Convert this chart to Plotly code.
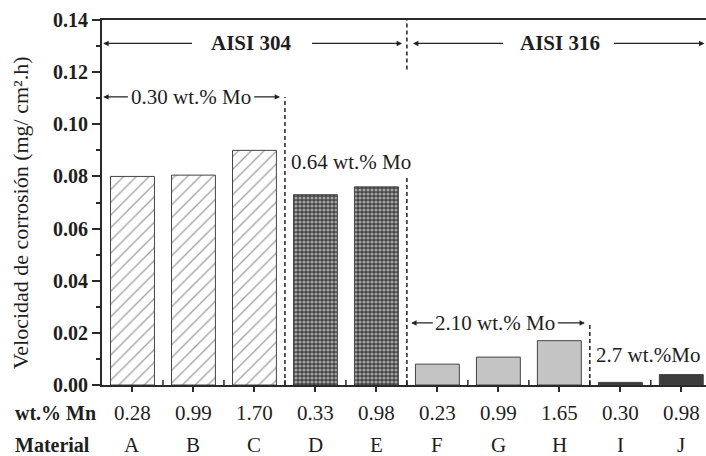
import plotly.graph_objects as go

materials = ["A", "B", "C", "D", "E", "F", "G", "H", "I", "J"]
mn_wt = ["0.28", "0.99", "1.70", "0.33", "0.98", "0.23", "0.99", "1.65", "0.30", "0.98"]
corrosion_rate = [0.080, 0.0805, 0.090, 0.073, 0.076, 0.008, 0.0107, 0.017, 0.001, 0.004]
bar_colors = ["white", "white", "white", "#444444", "#444444",
              "#c4c4c4", "#c4c4c4", "#c4c4c4", "#3c3c3c", "#3c3c3c"]
pattern_shapes = ["/", "/", "/", ".", ".", "", "", "", "", ""]
pattern_colors = ["#1a1a1a", "#1a1a1a", "#1a1a1a", "white", "white",
                  "#2a2a2a", "#2a2a2a", "#2a2a2a", "#2a2a2a", "#2a2a2a"]
y_ticks = [0.00, 0.02, 0.04, 0.06, 0.08, 0.10, 0.12, 0.14]

FONT = "Times New Roman, Liberation Serif, DejaVu Serif, serif"
AX = "#2a2a2a"
TXT = "#1e1e1e"
xpos = list(range(len(materials)))

fig = go.Figure()
fig.add_trace(go.Bar(
    x=xpos, y=corrosion_rate, width=0.72,
    marker=dict(
        color=bar_colors,
        line=dict(color="#444444", width=1),
        pattern=dict(shape=pattern_shapes, size=[9, 9, 9, 4, 4, 8, 8, 8, 8, 8],
                     solidity=[0.15, 0.15, 0.15, 0.5, 0.5, 0.2, 0.2, 0.2, 0.2, 0.2],
                     fgcolor=pattern_colors, fillmode="overlay"),
    ),
    hoverinfo="skip",
))

fig.update_layout(
    width=706, height=456,
    margin=dict(l=102, r=0, t=20, b=71),
    plot_bgcolor="white", paper_bgcolor="white",
    showlegend=False,
    font=dict(family=FONT, color=TXT, size=20),
)
fig.update_xaxes(
    range=[-0.5, 9.405], tickvals=xpos, ticktext=[""] * 10, tickson="boundaries",
    ticks="outside", ticklen=5, tickwidth=1.5, tickcolor=AX,
    showline=True, linecolor=AX, linewidth=1.8, mirror=True,
    showgrid=False, zeroline=False, showticklabels=False,
)
fig.update_yaxes(
    range=[0, 0.14], tickvals=y_ticks, ticktext=[f"<b>{v:.2f}</b>" for v in y_ticks],
    ticks="outside", ticklen=8, tickwidth=1.5, tickcolor=AX,
    minor=dict(dtick=0.01, ticks="outside", ticklen=4, tickwidth=1.5, tickcolor=AX, showgrid=False),
    showline=True, linecolor=AX, linewidth=1.8,
    showgrid=False, zeroline=False,
    tickfont=dict(family=FONT, size=20, color=TXT),
)

shapes = []
# inside halves of the crossing x ticks
for b in [i + 0.5 for i in range(9)]:
    shapes.append(dict(type="line", xref="x", yref="y", x0=b, x1=b, y0=0, y1=0.0019,
                       line=dict(color=AX, width=1.5)))
dash = dict(color="#222222", width=1.5, dash="4px,3px")
shapes += [
    dict(type="line", xref="x", yref="y", x0=2.5, x1=2.5, y0=0, y1=0.1105, line=dash),
    dict(type="line", xref="x", yref="y", x0=4.5, x1=4.5, y0=0, y1=0.0795, line=dash),
    dict(type="line", xref="x", yref="y", x0=4.5, x1=4.5, y0=0.121, y1=0.14, line=dash),
    dict(type="line", xref="x", yref="y", x0=7.5, x1=7.5, y0=0, y1=0.0238, line=dash),
]
fig.update_layout(shapes=shapes)

ann = []

def arrow(x_from, x_to, y, width=1.2, head=0.9):
    ann.append(dict(x=x_to, y=y, ax=x_from, ay=y, xref="x", yref="y", axref="x", ayref="y",
                    text="", showarrow=True, arrowhead=2, arrowsize=head, arrowwidth=width,
                    arrowcolor="#222222"))

def label(x, y, text, size=21, bold=False, xanchor="center"):
    ann.append(dict(x=x, y=y, xref="x", yref="y", text=f"<b>{text}</b>" if bold else text,
                    showarrow=False, xanchor=xanchor, yanchor="middle",
                    font=dict(family=FONT, size=size, color=TXT)))

# AISI 304 / 316
label(1.95, 0.131, "AISI 304", size=21, bold=True)
arrow(1.0, -0.48, 0.131)
arrow(2.92, 4.42, 0.131)
label(7.01, 0.131, "AISI 316", size=21, bold=True)
arrow(6.1, 4.6, 0.131)
arrow(7.87, 9.38, 0.131)

# Mo groups
label(0.96, 0.1105, "0.30 wt.% Mo")
arrow(-0.05, -0.48, 0.1105)
arrow(1.97, 2.42, 0.1105)
label(2.57, 0.0857, "0.64 wt.% Mo", xanchor="left")
label(5.95, 0.0238, "2.10 wt.% Mo")
arrow(4.95, 4.57, 0.0238)
arrow(6.95, 7.42, 0.0238)
label(7.57, 0.0117, "2.7 wt.%Mo", xanchor="left")

# bottom rows
for i in xpos:
    ann.append(dict(x=i, y=-0.078, xref="x", yref="paper", text=mn_wt[i], showarrow=False,
                    yanchor="middle", font=dict(family=FONT, size=21, color=TXT)))
    ann.append(dict(x=i, y=-0.165, xref="x", yref="paper", text=materials[i], showarrow=False,
                    yanchor="middle", font=dict(family=FONT, size=21, color=TXT)))
ann.append(dict(x=-0.148, y=-0.078, xref="paper", yref="paper", text="<b>wt.% Mn</b>", showarrow=False,
                xanchor="left", yanchor="middle", font=dict(family=FONT, size=20, color=TXT)))
ann.append(dict(x=-0.148, y=-0.165, xref="paper", yref="paper", text="<b>Material</b>", showarrow=False,
                xanchor="left", yanchor="middle", font=dict(family=FONT, size=20, color=TXT)))

# y axis title
ann.append(dict(x=-0.135, y=0.472, xref="paper", yref="paper",
                text="Velocidad de corrosión (mg/ cm².h)", textangle=-90, showarrow=False,
                xanchor="center", yanchor="middle",
                font=dict(family=FONT, size=22, color=TXT)))

fig.update_layout(annotations=ann)
fig.write_html("out.html", config={"displayModeBar": False},
               post_script="document.body.style.margin='0px';")
